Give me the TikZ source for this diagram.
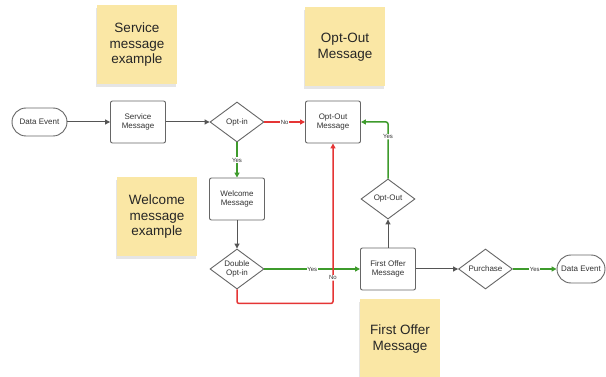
\documentclass[tikz,border=0pt]{standalone}
\usepackage{fontspec}
\setmainfont{Liberation Sans}
\usepackage{xcolor}
\usepackage{tikz}
\usetikzlibrary{arrows.meta,shapes.geometric,shadows}
\definecolor{stickyyellow}{HTML}{FAE7A5}
\definecolor{optoutred}{HTML}{E53535}
\definecolor{optingreen}{HTML}{3E9B2C}
\definecolor{linegray}{HTML}{555555}
\definecolor{boxgray}{HTML}{666666}
\definecolor{inkgray}{HTML}{333333}

\begin{document}
\begin{tikzpicture}[x=1pt, y=-1pt,
        msgbox/.style={draw=boxgray, rounded corners=2pt, line width=0.9pt, minimum width=55pt, minimum height=42pt, align=center, text=inkgray, font=\fontsize{8}{9.5}\selectfont, inner sep=1pt},
        decision/.style={draw=boxgray, diamond, aspect=1.35, line width=0.9pt, minimum width=54pt, minimum height=40pt, align=center, text=inkgray, font=\fontsize{8}{9.5}\selectfont, inner sep=0pt},
        terminal/.style={draw=boxgray, rounded corners=14pt, line width=0.9pt, minimum height=28pt, text=inkgray, font=\fontsize{8}{9.5}\selectfont, inner sep=2pt},
        sticky/.style={fill=stickyyellow, minimum width=80pt, minimum height=79pt, align=center, text=black!85, font=\fontsize{13.5}{15.5}\selectfont, drop shadow={shadow xshift=-1.5pt, shadow yshift=-3pt, opacity=0.2}},
        flowarrow/.style={-{Triangle[length=5pt, width=5pt]}, line width=1.5pt, draw=#1},
        flowarrow/.default={linegray},
        edgelabel/.style={font=\fontsize{6}{6.5}\selectfont, text=inkgray, fill=white, inner sep=0.6pt},
    ]
    \useasboundingbox[fill=white] (0,0) rectangle (606,377);

    % === Sticky notes ===
    \node[sticky] (nServ) at (137,45) {Service\\message\\example};
    \node[sticky] (nOut) at (345,47) {Opt-Out\\Message};
    \node[sticky] (nWel) at (157,217) {Welcome\\message\\example};
    \node[sticky, minimum height=80pt] (nOff) at (400,339) {First Offer\\Message};

    % === Top row ===
    \node[terminal, minimum width=55pt] (start) at (39.5,122) {Data Event};
    \node[msgbox] (serv) at (138,122) {Service\\Message};
    \node[decision] (optin) at (237,122) {Opt-in};
    \node[msgbox] (outmsg) at (333,122) {Opt-Out\\Message};

    % === Welcome branch ===
    \node[msgbox] (wel) at (237,199) {Welcome\\Message};
    \node[decision] (dbl) at (237,269) {Double\\Opt-in};

    % === First offer ===
    \node[msgbox] (offer) at (388,269) {First Offer\\Message};
    \node[decision] (optout) at (388,199) {Opt-Out};
    \node[decision] (purch) at (485.5,269) {Purchase};
    \node[terminal, minimum width=48pt] (stop) at (581,269) {Data Event};

    % Grey links
    \draw[flowarrow, line width=1pt] (start) -- (serv);
    \draw[flowarrow, line width=1pt] (serv) -- (optin);
    \draw[flowarrow, line width=1pt] (wel) -- (dbl);
    \draw[flowarrow, line width=1pt] (offer) -- (optout);
    \draw[flowarrow, line width=1pt] (offer) -- (purch);

    % Yes links
    \draw[flowarrow=optingreen] (optin) -- node[edgelabel]{Yes} (wel);
    \draw[flowarrow=optingreen] (dbl) -- node[edgelabel]{Yes} (offer);
    \draw[flowarrow=optingreen, rounded corners=2pt] (optout.north) |- node[edgelabel, pos=0.37]{Yes} (outmsg.east);
    \draw[flowarrow=optingreen] (purch) -- node[edgelabel]{Yes} (stop);

    % No links
    \draw[flowarrow=optoutred] (optin) -- node[edgelabel]{No} (outmsg);
    \draw[flowarrow=optoutred, rounded corners=2pt] (dbl.south) -- ++(0,14) -| node[edgelabel, pos=0.58]{No} (outmsg.south);

    \end{tikzpicture}
\end{document}
